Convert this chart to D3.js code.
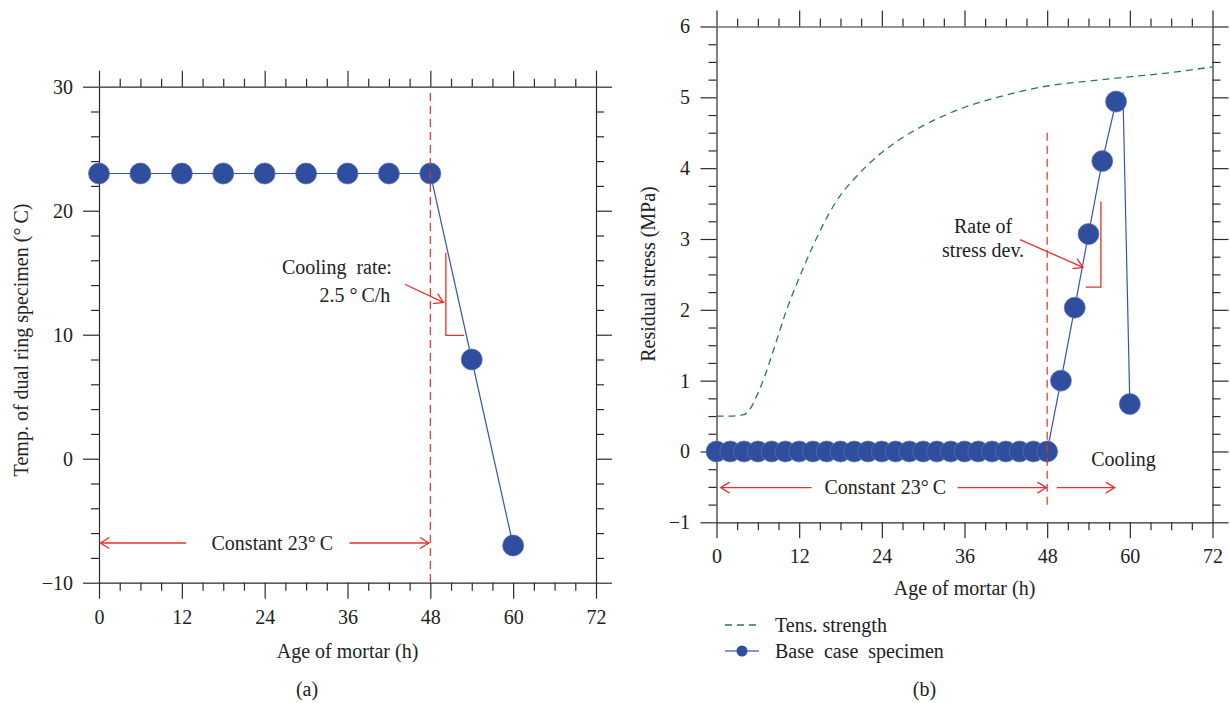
<!DOCTYPE html>
<html><head><meta charset="utf-8">
<script src="https://cdn.jsdelivr.net/npm/d3@7"></script>
<style>
body{margin:0;background:#fff;}
svg text{font-family:"Liberation Serif","Times New Roman",serif;font-size:20px;fill:#222;}
</style></head><body>
<svg id="c" width="1230" height="703"></svg>
<script>
// ---------- data ----------
const xTicks = [0, 12, 24, 36, 48, 60, 72];
const tempTicks = [-10, 0, 10, 20, 30];
const stressTicks = [-1, 0, 1, 2, 3, 4, 5, 6];

// (a) temperature of dual ring specimen
const tempHours  = [0, 6, 12, 18, 24, 30, 36, 42, 48, 54, 60];
const tempValues = [23, 23, 23, 23, 23, 23, 23, 23, 23, 8, -7];

// (b) residual stress, base case specimen (markers)
const stressHours  = [0,2,4,6,8,10,12,14,16,18,20,22,24,26,28,30,32,34,36,38,40,42,44,46,48,50,52,54,56,58,60];
const stressValues = [0,0,0,0,0,0,0,0,0,0,0,0,0,0,0,0,0,0,0,0,0,0,0,0,0,1.0,2.03,3.07,4.1,4.94,0.67];
// unmarked vertex of the curve (peak between 58 h and 60 h)
const stressPeakHour = 59, stressPeakValue = 5.06;

// (b) tensile strength
const strengthHours  = [0,2,4,5,6,7,8,9,10,12,14,16,18,20,22,24,27,30,33,36,40,44,48,54,60,66,72];
const strengthValues = [0.5,0.5,0.52,0.62,0.82,1.06,1.35,1.65,1.95,2.45,2.9,3.3,3.62,3.85,4.05,4.22,4.43,4.6,4.74,4.86,4.98,5.08,5.16,5.23,5.29,5.35,5.43];

// ---------- style ----------
const AX = "#2b2b2b", BLUE = "#2f4e9e", BLUE_LINE = "#3355b5", RED = "#e8302e", GREEN = "#2a7a4c";

const svg = d3.select("#c");
const defs = svg.append("defs");
defs.append("marker").attr("id","arr").attr("viewBox","-10 -6 12 12")
  .attr("markerWidth",12).attr("markerHeight",12).attr("refX",0).attr("refY",0)
  .attr("orient","auto").attr("markerUnits","userSpaceOnUse")
  .append("path").attr("d","M-9,-5.5L0,0L-9,5.5").attr("fill","none").attr("stroke",RED).attr("stroke-width",1.3);

function frame(g, x, y, yMajor, yMinorStep, labelPadY) {
  const [y0, y1] = y.range();
  const xMinor = d3.range(0, 72.001, 3).filter(v => v % 12 !== 0);
  const yd = y.domain();
  const yMinor = d3.range(yd[0], yd[1] + 1e-9, yMinorStep).filter(v => !yMajor.some(m => Math.abs(m - v) < 1e-9));
  const style = s => s.selectAll("path,line").attr("stroke", AX).attr("stroke-width", 1.2);
  // bottom
  g.append("g").attr("transform", `translate(0,${y0})`)
    .call(d3.axisBottom(x).tickValues(xTicks).tickSize(16).tickSizeOuter(0).tickPadding(11)).call(style);
  g.append("g").attr("transform", `translate(0,${y0})`)
    .call(d3.axisBottom(x).tickValues(xMinor).tickSize(8).tickFormat("")).call(style).select(".domain").remove();
  // top
  g.append("g").attr("transform", `translate(0,${y1})`)
    .call(d3.axisTop(x).tickValues(xTicks).tickSize(16).tickSizeOuter(0).tickFormat("")).call(style);
  g.append("g").attr("transform", `translate(0,${y1})`)
    .call(d3.axisTop(x).tickValues(xMinor).tickSize(8).tickFormat("")).call(style).select(".domain").remove();
  // left
  const fmt = d => d < 0 ? "\u2212" + Math.abs(d) : String(d);
  g.append("g").attr("transform", `translate(${x.range()[0]},0)`)
    .call(d3.axisLeft(y).tickValues(yMajor).tickSize(16).tickSizeOuter(0).tickPadding(labelPadY).tickFormat(fmt)).call(style);
  g.append("g").attr("transform", `translate(${x.range()[0]},0)`)
    .call(d3.axisLeft(y).tickValues(yMinor).tickSize(8).tickFormat("")).call(style).select(".domain").remove();
  // right
  g.append("g").attr("transform", `translate(${x.range()[1]},0)`)
    .call(d3.axisRight(y).tickValues(yMajor).tickSize(16).tickSizeOuter(0).tickFormat("")).call(style);
  g.append("g").attr("transform", `translate(${x.range()[1]},0)`)
    .call(d3.axisRight(y).tickValues(yMinor).tickSize(8).tickFormat("")).call(style).select(".domain").remove();
  g.selectAll("text").attr("font-size", null).attr("font-family", null);
}

function arrowLine(g, x, y, h1, v1, h2, v2, endArrow, startArrow) {
  const p = g.append("line").attr("x1", x(h1)).attr("y1", y(v1)).attr("x2", x(h2)).attr("y2", y(v2))
    .attr("stroke", RED).attr("stroke-width", 1.3);
  if (endArrow) p.attr("marker-end", "url(#arr)");
  if (startArrow) p.attr("marker-start", "url(#arrS)");
  return p;
}
defs.append("marker").attr("id","arrS").attr("viewBox","-2 -6 12 12")
  .attr("markerWidth",12).attr("markerHeight",12).attr("refX",0).attr("refY",0)
  .attr("orient","auto").attr("markerUnits","userSpaceOnUse")
  .append("path").attr("d","M9,-5.5L0,0L9,5.5").attr("fill","none").attr("stroke",RED).attr("stroke-width",1.3);

// ---------- (a) ----------
{
  const x = d3.scaleLinear().domain([0, 72]).range([99, 596]);
  const y = d3.scaleLinear().domain([-10, 30]).range([582.7, 86.7]);
  const g = svg.append("g");
  frame(g, x, y, tempTicks, 2, 10);

  const line = d3.line().x((d, i) => x(tempHours[i])).y(d => y(d));
  g.append("path").attr("d", line(tempValues)).attr("fill", "none").attr("stroke", BLUE_LINE).attr("stroke-width", 1.2);
  g.selectAll("circle.pt").data(tempValues).join("circle").attr("class", "pt")
    .attr("cx", (d, i) => x(tempHours[i])).attr("cy", d => y(d)).attr("r", 10.5)
    .attr("fill", BLUE).attr("stroke", "#4f68b0").attr("stroke-width", 0.7);

  g.append("line").attr("x1", x(48)).attr("x2", x(48)).attr("y1", y(29.5)).attr("y2", y(-10))
    .attr("stroke", RED).attr("stroke-width", 1.2).attr("stroke-dasharray", "8,5");

  // constant arrows
  arrowLine(g, x, y, 12.6, -6.8, 0.2, -6.8, true);
  arrowLine(g, x, y, 36.3, -6.8, 47.8, -6.8, true);
  g.append("text").attr("x", x(25.1)).attr("y", y(-6.8)).attr("dy", "0.33em").attr("text-anchor", "middle").text("Constant 23\u00b0\u2009C");

  // cooling rate
  g.append("path").attr("d", d3.line()([[x(50.25), y(16.6)], [x(50.25), y(9.95)], [x(52.9), y(9.95)]]))
    .attr("fill", "none").attr("stroke", RED).attr("stroke-width", 1.3);
  arrowLine(g, x, y, 44.3, 14.07, 49.9, 12.6, true);
  g.append("text").attr("x", x(26.5)).attr("y", y(14.9)).attr("xml:space", "preserve").style("white-space", "pre").text("Cooling  rate:");
  g.append("text").attr("x", x(42.2)).attr("y", y(12.66)).attr("text-anchor", "end").text("2.5 \u00b0\u2009C/h");

  g.append("text").attr("x", 347.5).attr("y", 658).attr("text-anchor", "middle").text("Age of mortar (h)");
  g.append("text").attr("transform", "translate(28,340) rotate(-90)").attr("text-anchor", "middle").text("Temp. of dual ring specimen (\u00b0\u2009C)");
  g.append("text").attr("x", 307).attr("y", 696).attr("text-anchor", "middle").text("(a)");
}

// ---------- (b) ----------
{
  const x = d3.scaleLinear().domain([0, 72]).range([716.5, 1212.5]);
  const y = d3.scaleLinear().domain([-1, 6]).range([522.3, 26.5]);
  const g = svg.append("g");
  frame(g, x, y, stressTicks, 0.25, 10.5);

  const sl = d3.line().x((d, i) => x(strengthHours[i])).y(d => y(d)).curve(d3.curveMonotoneX);
  g.append("path").attr("d", sl(strengthValues)).attr("fill", "none").attr("stroke", GREEN)
    .attr("stroke-width", 1.3).attr("stroke-dasharray", "7,5");

  const pts = stressHours.map((h, i) => [h, stressValues[i]]);
  const linePts = pts.slice(0, -1).concat([[stressPeakHour, stressPeakValue], pts[pts.length - 1]]);
  g.append("path").attr("d", d3.line().x(d => x(d[0])).y(d => y(d[1]))(linePts))
    .attr("fill", "none").attr("stroke", BLUE_LINE).attr("stroke-width", 1.2);
  g.selectAll("circle.pt").data(pts).join("circle").attr("class", "pt")
    .attr("cx", d => x(d[0])).attr("cy", d => y(d[1])).attr("r", 10.5)
    .attr("fill", BLUE).attr("stroke", "#5a73b8").attr("stroke-width", 0.7);

  g.append("line").attr("x1", x(48)).attr("x2", x(48)).attr("y1", y(4.5)).attr("y2", y(-0.77))
    .attr("stroke", RED).attr("stroke-width", 1.2).attr("stroke-dasharray", "8,5");

  arrowLine(g, x, y, 13.8, -0.51, 0.6, -0.51, true);
  arrowLine(g, x, y, 35.0, -0.51, 47.9, -0.51, true);
  arrowLine(g, x, y, 49.4, -0.51, 57.8, -0.51, true);
  g.append("text").attr("x", x(24.5)).attr("y", y(-0.51)).attr("dy", "0.33em").attr("text-anchor", "middle").text("Constant 23\u00b0\u2009C");
  g.append("text").attr("x", x(54.4)).attr("y", y(-0.2)).text("Cooling");

  g.append("path").attr("d", d3.line()([[x(55.8), y(3.53)], [x(55.8), y(2.32)], [x(53.6), y(2.32)]]))
    .attr("fill", "none").attr("stroke", RED).attr("stroke-width", 1.3);
  arrowLine(g, x, y, 44.06, 2.99, 53.2, 2.6, true);
  g.append("text").attr("x", x(38.7)).attr("y", y(3.08)).attr("text-anchor", "middle").text("Rate of");
  g.append("text").attr("x", x(38.7)).attr("y", y(2.75)).attr("text-anchor", "middle").text("stress dev.");

  g.append("text").attr("x", 964.5).attr("y", 595).attr("text-anchor", "middle").text("Age of mortar (h)");
  g.append("text").attr("transform", "translate(655,274) rotate(-90)").attr("text-anchor", "middle").text("Residual stress (MPa)");
  g.append("text").attr("x", 924.5).attr("y", 696).attr("text-anchor", "middle").text("(b)");

  // legend
  const lg = svg.append("g");
  lg.append("line").attr("x1", 725).attr("x2", 759).attr("y1", 625).attr("y2", 625)
    .attr("stroke", GREEN).attr("stroke-width", 1.3).attr("stroke-dasharray", "7,5");
  lg.append("text").attr("x", 775).attr("y", 625).attr("dy", "0.33em").text("Tens. strength");
  lg.append("line").attr("x1", 725).attr("x2", 759).attr("y1", 651).attr("y2", 651)
    .attr("stroke", "#5576c4").attr("stroke-width", 1.6);
  lg.append("circle").attr("cx", 742).attr("cy", 651).attr("r", 5.5).attr("fill", BLUE);
  lg.append("text").attr("x", 775).attr("y", 651).attr("dy", "0.33em").style("white-space", "pre").text("Base  case  specimen");
}
</script>
</body></html>
